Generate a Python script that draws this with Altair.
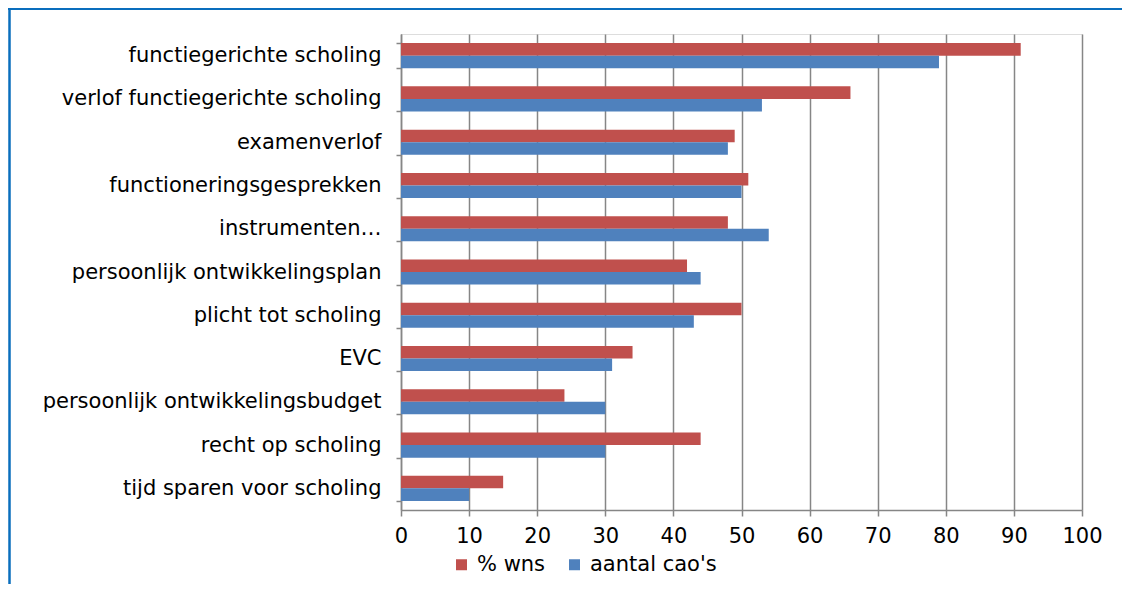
import altair as alt
import pandas as pd

categories = [
    "functiegerichte scholing",
    "verlof functiegerichte scholing",
    "examenverlof",
    "functioneringsgesprekken",
    "instrumenten…",
    "persoonlijk ontwikkelingsplan",
    "plicht tot scholing",
    "EVC",
    "persoonlijk ontwikkelingsbudget",
    "recht op scholing",
    "tijd sparen voor scholing",
]
wns = [91, 66, 49, 51, 48, 42, 50, 34, 24, 44, 15]
caos = [79, 53, 48, 50, 54, 44, 43, 31, 30, 30, 10]
series = ["% wns", "aantal cao's"]
colors = ["#C0504D", "#4F81BD"]
x_ticks = list(range(0, 101, 10))

rows = []
for c, a, b in zip(categories, wns, caos):
    rows.append({"cat": c, "serie": series[0], "val": a})
    rows.append({"cat": c, "serie": series[1], "val": b})
df = pd.DataFrame(rows)

FONT = "DejaVu Sans"
FS = 21
W, H = 681, 476

bars = alt.Chart(df).mark_bar(opacity=1).encode(
    y=alt.Y("cat:N", sort=categories,
            scale=alt.Scale(paddingInner=0.42, paddingOuter=0.21),
            axis=alt.Axis(title=None, tickBand="extent", tickSize=5, tickColor="#868686",
                          tickWidth=1.5, domainColor="#868686", domainWidth=1.5,
                          labelFont=FONT, labelFontSize=FS, labelColor="#000000",
                          labelPadding=15, labelLimit=400, grid=False)),
    yOffset=alt.YOffset("serie:N", sort=series),
    x=alt.X("val:Q", scale=alt.Scale(domain=[0, 100], nice=False),
            axis=alt.Axis(title=None, values=x_ticks, tickSize=6, tickColor="#868686",
                          tickWidth=1.5, domainColor="#868686", domainWidth=1.5,
                          grid=True, gridColor="#868686", gridWidth=1.5,
                          labelFont=FONT, labelFontSize=FS, labelColor="#000000",
                          labelPadding=9, labelFlush=False)),
    color=alt.Color("serie:N", sort=series,
                    scale=alt.Scale(domain=series, range=colors),
                    legend=alt.Legend(title=None, orient="none", direction="horizontal",
                                      legendX=50, legendY=520, symbolType="square",
                                      symbolSize=121, symbolStrokeWidth=0,
                                      labelFont=FONT, labelFontSize=FS, labelColor="#000000",
                                      labelOffset=5, columnPadding=18)),
)

border_top = alt.Chart(pd.DataFrame({"k": [0]})).mark_rule(
    color="#0A6EBD", strokeWidth=2.5).encode(
    x=alt.value(-393), x2=alt.value(740), y=alt.value(-25.2))
border_left = alt.Chart(pd.DataFrame({"k": [0]})).mark_rule(
    color="#0A6EBD", strokeWidth=2.5).encode(
    x=alt.value(-391.5), y=alt.value(-26.5), y2=alt.value(560))

chart = alt.layer(bars, border_top, border_left).properties(
    width=W, height=H,
    autosize=alt.AutoSizeParams(type="none"),
    padding={"left": 393, "top": 26, "right": 40, "bottom": 74},
).configure_view(stroke=None).configure(background="white")

chart.save("out.html", embed_options={"renderer": "svg", "actions": False})
